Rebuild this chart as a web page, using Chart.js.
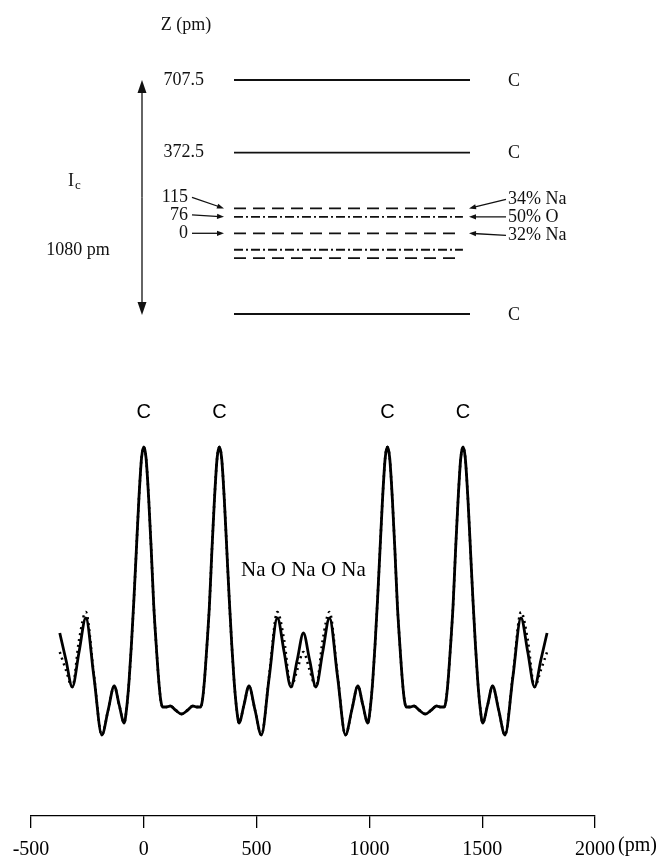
<!DOCTYPE html>
<html>
<head>
<meta charset="utf-8">
<script src="https://cdn.jsdelivr.net/npm/chart.js@4.4.1/dist/chart.umd.min.js"></script>
<style>
  html, body { margin: 0; padding: 0; background: #fff; }
  #wrap { position: relative; width: 668px; height: 859px; }
  canvas { position: absolute; left: 0; top: 0; }
</style>
</head>
<body>
<div id="wrap">
  <canvas id="profileChart" width="668" height="859"></canvas>
  <canvas id="layerChart" width="668" height="859"></canvas>
</div>
<script>
// layer diagram: z positions (pm) of the planes in one c-repeat
const layerZ = [707.5, 372.5, 115, 76, 0, -76, -115, -372.5];
const layerKind = ['C', 'C', 'Na', 'O', 'Na', 'O', 'Na', 'C'];
const zLabelValues = [707.5, 372.5, 115, 76, 0];
const occupancyZ = [115, 76, 0];
const occupancyLabels = ['34% Na', '50% O', '32% Na'];
const repeatLabel = '1080 pm';

// density profile along z (pm)
const positions = [
  -372.5, -345, -317, -287, -257, -221, -186, -158, -131, -109, -87, -76, -65, -55, -44, -33, -22, -10, 0,
  10, 22, 33, 44, 55, 66, 75, 83, 100, 118, 140, 167.5, 195, 217, 235, 252, 260, 269, 280, 291, 302, 313, 325, 335,
  345, 357, 368, 379, 390, 400, 411, 422, 444, 466, 493, 521, 556, 592, 622, 652, 680, 707.5,
  735, 763, 793, 823, 859, 894, 922, 949, 971, 993, 1004, 1015, 1025, 1036, 1047, 1058, 1070, 1080,
  1090, 1102, 1113, 1124, 1135, 1146, 1155, 1163, 1180, 1198, 1220, 1247.5, 1275, 1297, 1315, 1332, 1340, 1349, 1360, 1371, 1382, 1393, 1405, 1415,
  1425, 1437, 1448, 1459, 1470, 1480, 1491, 1502, 1524, 1546, 1573, 1601, 1636, 1672, 1702, 1732, 1760, 1787.5
];
const solidDensity = [
  107, 80, 53, 88, 122, 63, 5, 30, 54, 35, 17, 32, 60, 95, 140, 190, 240, 282, 293,
  282, 240, 190, 135, 95, 60, 40, 33, 33, 34, 30, 26, 30, 34, 33, 33, 40, 60, 95, 135, 190, 240, 282, 293,
  282, 240, 190, 140, 95, 60, 32, 17, 35, 54, 30, 5, 63, 122, 88, 53, 80, 107,
  80, 53, 88, 122, 63, 5, 30, 54, 35, 17, 32, 60, 95, 140, 190, 240, 282, 293,
  282, 240, 190, 135, 95, 60, 40, 33, 33, 34, 30, 26, 30, 34, 33, 33, 40, 60, 95, 135, 190, 240, 282, 293,
  282, 240, 190, 140, 95, 60, 32, 17, 35, 54, 30, 5, 63, 122, 88, 53, 80, 107
];
const dottedDensity = [
  88, 70, 53, 100, 128, 65, 5, 30, 54, 35, 17, 32, 60, 95, 140, 190, 240, 282, 293,
  282, 240, 190, 135, 95, 60, 40, 33, 33, 34, 30, 26, 30, 34, 33, 33, 40, 60, 95, 135, 190, 240, 282, 293,
  282, 240, 190, 140, 95, 60, 32, 17, 35, 54, 30, 5, 65, 128, 100, 53, 70, 88,
  70, 53, 100, 128, 65, 5, 30, 54, 35, 17, 32, 60, 95, 140, 190, 240, 282, 293,
  282, 240, 190, 135, 95, 60, 40, 33, 33, 34, 30, 26, 30, 34, 33, 33, 40, 60, 95, 135, 190, 240, 282, 293,
  282, 240, 190, 140, 95, 60, 32, 17, 35, 54, 30, 5, 65, 128, 100, 53, 70, 88
];
const carbonPeaks = [0, 335, 1080, 1415];
const interlayerCentre = 707.5;
const interlayerText = 'Na O Na O Na';
const xTicks = [-500, 0, 500, 1000, 1500, 2000];

const SERIF = '"Liberation Serif", "Times New Roman", serif';
const SANS = '"Liberation Sans", Arial, sans-serif';
const INK = '#111';

function arrow(ctx, x1, y1, x2, y2, len, half) {
    const a = Math.atan2(y2 - y1, x2 - x1);
    ctx.beginPath();
    ctx.moveTo(x1, y1);
    ctx.lineTo(x2 - Math.cos(a) * len * 0.6, y2 - Math.sin(a) * len * 0.6);
    ctx.stroke();
    ctx.beginPath();
    ctx.moveTo(x2, y2);
    ctx.lineTo(x2 - Math.cos(a) * len + Math.sin(a) * half, y2 - Math.sin(a) * len - Math.cos(a) * half);
    ctx.lineTo(x2 - Math.cos(a) * len - Math.sin(a) * half, y2 - Math.sin(a) * len + Math.cos(a) * half);
    ctx.closePath();
    ctx.fill();
}

// ---- layer diagram ----
const layerLabels = {
    id: 'layerLabels',
    afterDraw(chart) {
        const { ctx, chartArea: { left, right }, scales: { y } } = chart;
        ctx.save();
        ctx.fillStyle = INK;
        ctx.strokeStyle = INK;
        ctx.lineWidth = 1.3;
        ctx.font = '18px ' + SERIF;
        ctx.textBaseline = 'middle';

        ctx.textAlign = 'center';
        ctx.fillText('Z (pm)', left - 48, 25);

        // z values, the close ones pushed apart
        const shift = { 115: -11, 76: -2 };
        zLabelValues.forEach(z => {
            const py = y.getPixelForValue(z);
            ctx.textAlign = 'right';
            if (occupancyZ.includes(z)) {
                const ly = py + (shift[z] || 0);
                ctx.fillText(String(z), left - 46, ly);
                arrow(ctx, left - 42, ly, left - 10, py, 7, 2.6);
            } else {
                ctx.fillText(String(z), left - 30, py);
            }
        });

        // right hand side
        ctx.textAlign = 'left';
        layerZ.forEach((z, i) => {
            if (layerKind[i] === 'C') ctx.fillText('C', right + 38, y.getPixelForValue(z) + 1);
        });
        occupancyZ.forEach((z, i) => {
            const py = y.getPixelForValue(z);
            const ly = py + (shift[z] || 0) + 2;
            ctx.fillText(occupancyLabels[i], right + 38, ly);
            arrow(ctx, right + 36, ly, right - 1, py, 7, 2.6);
        });

        // repeat distance arrow
        const ax = left - 92;
        const top = y.getPixelForValue(layerZ[0]);
        const bot = y.getPixelForValue(layerZ[layerZ.length - 1]) + 1;
        arrow(ctx, ax, (top + bot) / 2, ax, top, 13, 4.5);
        arrow(ctx, ax, (top + bot) / 2, ax, bot, 13, 4.5);

        ctx.textAlign = 'left';
        ctx.fillText('I', left - 166, 181);
        ctx.font = '13px ' + SERIF;
        ctx.fillText('c', left - 159, 186);
        ctx.font = '18px ' + SERIF;
        ctx.textAlign = 'center';
        ctx.fillText(repeatLabel, left - 156, 250);
        ctx.restore();
    }
};

const layerStyles = {
    C: { dash: [], end: 1 },
    Na: { dash: [12, 7], end: 0.955 },
    O: { dash: [9, 3, 2, 3], end: 0.97 }
};

new Chart(document.getElementById('layerChart').getContext('2d'), {
    type: 'line',
    data: {
        datasets: layerZ.map((z, i) => ({
            data: [{ x: 0, y: z }, { x: layerStyles[layerKind[i]].end, y: z }],
            borderColor: INK,
            borderWidth: 1.8,
            borderDash: layerStyles[layerKind[i]].dash,
            pointRadius: 0,
            clip: false
        }))
    },
    options: {
        responsive: false,
        animation: false,
        events: [],
        layout: { padding: { left: 234, right: 198, top: 80, bottom: 545 } },
        scales: {
            x: { type: 'linear', display: false, min: 0, max: 1 },
            y: { type: 'linear', display: false, min: -372.5, max: 707.5 }
        },
        plugins: { legend: { display: false }, tooltip: { enabled: false } }
    },
    plugins: [layerLabels]
});

// ---- density profile ----
const profileLabels = {
    id: 'profileLabels',
    afterDraw(chart) {
        const { ctx, chartArea, scales: { x, y } } = chart;
        ctx.save();
        ctx.fillStyle = '#000';
        ctx.textBaseline = 'middle';
        ctx.textAlign = 'center';
        ctx.font = '20px ' + SANS;
        const peakTop = y.getPixelForValue(Math.max(...solidDensity));
        carbonPeaks.forEach(p => ctx.fillText('C', x.getPixelForValue(p), peakTop - 35));

        ctx.font = '21px ' + SERIF;
        ctx.fillText(interlayerText, x.getPixelForValue(interlayerCentre), chartArea.top + 150);

        ctx.font = '20px ' + SERIF;
        ctx.textAlign = 'left';
        ctx.fillText('(pm)', x.right + 23, chartArea.bottom + 30);
        ctx.restore();
    }
};

new Chart(document.getElementById('profileChart').getContext('2d'), {
    type: 'line',
    data: {
        datasets: [
            {
                label: 'observed',
                data: positions.map((p, i) => ({ x: p, y: solidDensity[i] })),
                borderColor: '#000',
                borderWidth: 2.8,
                pointRadius: 0,
                cubicInterpolationMode: 'monotone',
                order: 0
            },
            {
                label: 'calculated',
                data: positions.map((p, i) => ({ x: p, y: dottedDensity[i] })),
                borderColor: '#000',
                borderWidth: 2.5,
                borderDash: [2, 4],
                pointRadius: 0,
                cubicInterpolationMode: 'monotone',
                order: 1
            }
        ]
    },
    options: {
        responsive: false,
        animation: false,
        events: [],
        layout: { padding: { left: 31, right: 73, top: 420, bottom: 0 } },
        scales: {
            x: {
                type: 'linear',
                min: -500,
                max: 2000,
                afterBuildTicks: s => { s.ticks = xTicks.map(v => ({ value: v })); },
                afterFit: s => { s.height = 43; },
                ticks: {
                    callback: v => String(v),
                    color: '#000',
                    font: { family: SERIF, size: 20 },
                    padding: 10,
                    maxRotation: 0,
                    autoSkip: false
                },
                grid: { drawOnChartArea: false, drawTicks: true, tickLength: 12, color: '#000', lineWidth: 1.3 },
                border: { display: true, color: '#000', width: 1.3 }
            },
            y: { type: 'linear', display: false, min: -76, max: 320 }
        },
        plugins: { legend: { display: false }, tooltip: { enabled: false } }
    },
    plugins: [profileLabels]
});
</script>
</body>
</html>
